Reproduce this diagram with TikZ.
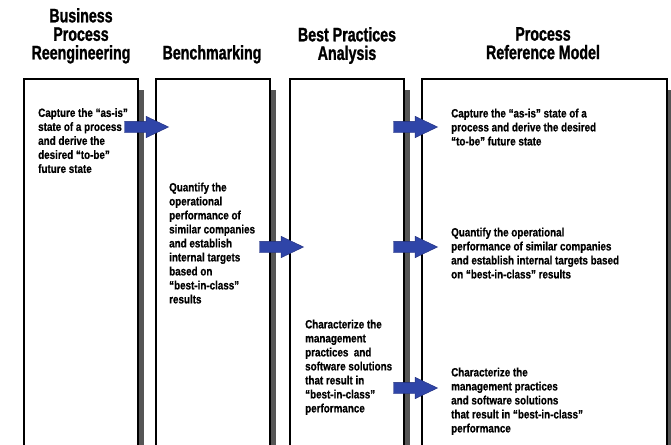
\documentclass[tikz,border=0pt]{standalone}
\usepackage{fontspec}
\usetikzlibrary{shapes.arrows}
\newfontfamily\headfont[FakeStretch=0.73, FakeBold=1.2]{Liberation Sans Bold}
\newfontfamily\notefont[FakeStretch=0.82, FakeBold=0.6]{Liberation Sans Bold}
\definecolor{flowblue}{HTML}{2F45A8}
\definecolor{flowedge}{HTML}{1E2C7A}
\definecolor{bargray}{HTML}{555555}

\begin{document}
\begin{tikzpicture}[x=1pt, y=-1pt,
  head/.style={font=\headfont\fontsize{19.5}{18.5}\selectfont, align=center, anchor=north, inner sep=0},
  note/.style={font=\notefont\fontsize{12}{14}\selectfont, align=left, anchor=north west, inner sep=0},
  flow/.style={single arrow, fill=flowblue, draw=flowedge, line width=0.4pt, inner xsep=0, inner ysep=5.5pt,
    minimum height=44pt, minimum width=21pt, single arrow head extend=5pt, single arrow tip angle=51, anchor=tip}]
  \useasboundingbox (0,0) rectangle (671,444);
  \clip (0,0) rectangle (671,444);
  % columns with their shadows
  \foreach \l/\r in {24/138, 156/270, 290/404, 422/667} {
    \fill[bargray] (\r,90) rectangle (\r+6,450);
    \draw[line width=1.5pt, fill=white] (\l,79) rectangle (\r,450);
  }
  % headings
  \node[head] (bpr) at (81,8) {Business\\Process\\Reengineering};
  \node[head] (bench) at (212,45) {Benchmarking};
  \node[head] (bpa) at (347,27) {Best Practices\\Analysis};
  \node[head] (prm) at (543,27) {Process\\Reference Model};
  % notes
  \node[note] (capture) at (38,108) {Capture the “as-is”\\state of a process\\and derive the\\desired “to-be”\\future state};
  \node[note] (quantify) at (169,182.5) {Quantify the\\operational\\performance of\\similar companies\\and establish\\internal targets\\based on\\“best-in-class”\\results};
  \node[note] (character) at (305,319.5) {Characterize the\\management\\practices\ \ and\\software solutions\\that result in\\“best-in-class”\\performance};
  \node[note] (capture2) at (451,108.5) {Capture the “as-is” state of a\\process and derive the desired\\“to-be” future state};
  \node[note] (quantify2) at (451,227.5) {Quantify the operational\\performance of similar companies\\and establish internal targets based\\on “best-in-class” results};
  \node[note] (character2) at (451,367.5) {Characterize the\\management practices\\and software solutions\\that result in “best-in-class”\\performance};
  % block arrows
  \node[flow] (a1) at (169,127) {};
  \node[flow] (a2) at (438,127) {};
  \node[flow] (a3) at (304,247) {};
  \node[flow] (a4) at (438,247) {};
  \node[flow] (a5) at (438,388) {};
\end{tikzpicture}
\end{document}
